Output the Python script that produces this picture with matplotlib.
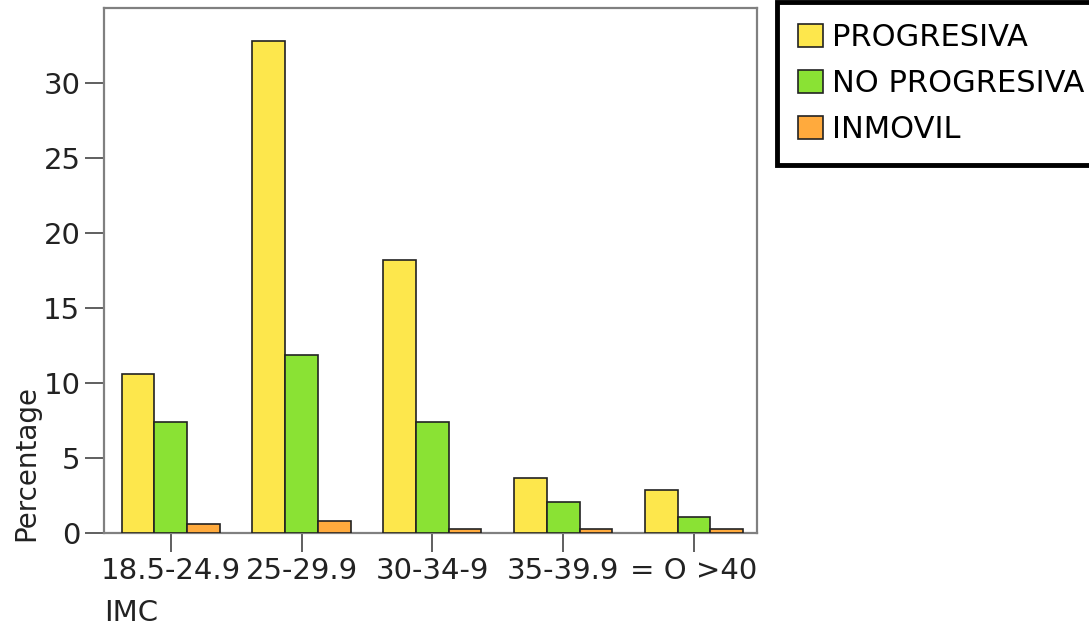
import matplotlib
matplotlib.use("Agg")
import matplotlib.pyplot as plt
import numpy as np

categories = ["18.5-24.9", "25-29.9", "30-34-9", "35-39.9", "= O >40"]
series_names = ["PROGRESIVA", "NO PROGRESIVA", "INMOVIL"]
progresiva = [10.6, 32.8, 18.2, 3.7, 2.9]
no_progresiva = [7.4, 11.9, 7.4, 2.1, 1.1]
inmovil = [0.6, 0.8, 0.3, 0.3, 0.3]
colors = ["#FDE74C", "#8AE234", "#FFAA3D"]

fig = plt.figure(figsize=(10.89, 6.31), dpi=100)
ax = fig.add_axes([0.0955, 0.1553, 0.5995, 0.832])

x = np.arange(len(categories))
w = 0.25
for i, (vals, name) in enumerate(zip([progresiva, no_progresiva, inmovil], series_names)):
    ax.bar(x + (i - 1) * w, vals, width=w, color=colors[i], edgecolor="#222222",
           linewidth=1.2, label=name, zorder=3)

ax.set_xlim(-0.51, 4.48)
ax.set_ylim(0, 35)
ax.set_yticks([0, 5, 10, 15, 20, 25, 30])
ax.set_xticks(x)
ax.set_xticklabels(categories)

for s in ax.spines.values():
    s.set_color("#808080")
    s.set_linewidth(1.6)

ax.tick_params(axis="both", direction="out", length=13.5, width=1.2, color="#444444",
               labelsize=21, labelcolor="#222222", pad=3.5)

ax.set_ylabel("Percentage", fontsize=20, color="#222222")
ax.yaxis.set_label_coords(-0.097, 0.133)
ax.set_xlabel("IMC", fontsize=21, color="#222222", ha="left")
ax.xaxis.set_label_coords(0.0, -0.125)

leg = fig.legend(loc="upper left", bbox_to_anchor=(0.7135, 0.997), borderaxespad=0,
                 fontsize=22, handlelength=0.8, handleheight=0.8, handletextpad=0.3,
                 labelspacing=0.55, borderpad=0.7, fancybox=False, framealpha=1)
leg.get_frame().set_edgecolor("black")
leg.get_frame().set_linewidth(3.5)

fig.savefig("out.png", dpi=100)
